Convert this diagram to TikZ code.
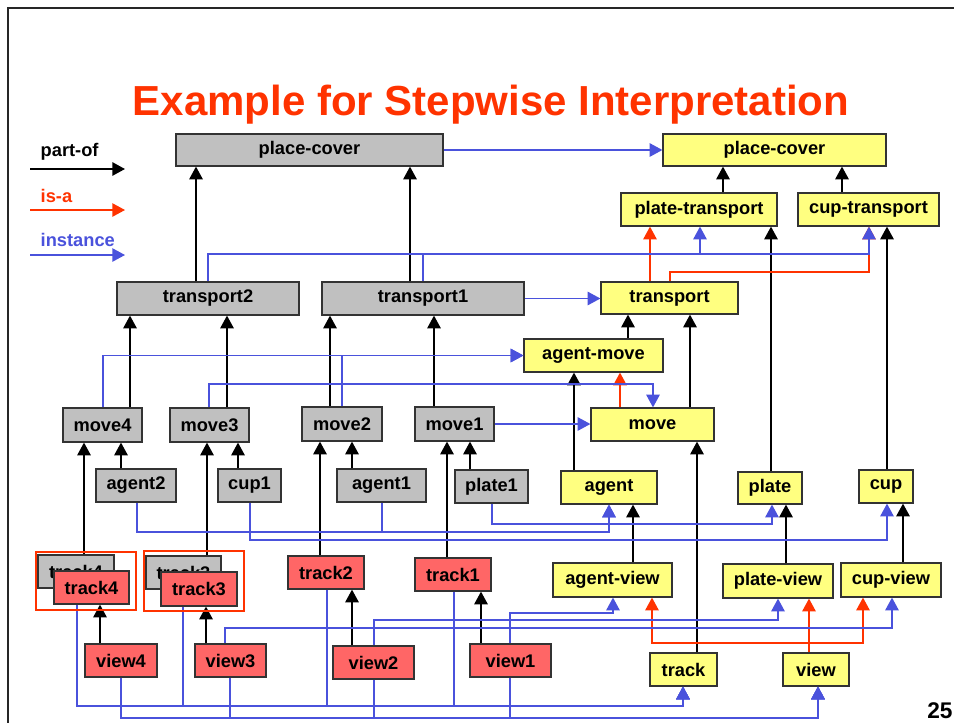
\documentclass[tikz,border=0pt]{standalone}
\usepackage{fontspec}
\setmainfont{Liberation Sans}
\usetikzlibrary{arrows.meta}
\definecolor{gfill}{HTML}{C0C0C0}
\definecolor{yfill}{HTML}{FFFF80}
\definecolor{rfill}{HTML}{FF6666}
\definecolor{iblue}{HTML}{4A52DC}
\definecolor{ired}{HTML}{FF3300}
\newcommand\bx[7]{\node[#6, minimum width={(#4-#2)*0.75pt}, minimum height={(#5-#3)*0.75pt}] (#1) at ({(#2+#4)/2},{(#3+#5)/2}) {#7};}
\begin{document}
\begin{tikzpicture}[x=0.75pt,y=-0.75pt,
  box/.style={draw=black!80,line width=0.9pt,inner sep=0pt,font=\fontsize{13.7}{15}\selectfont\bfseries},
  gbox/.style={box,fill=gfill},
  ybox/.style={box,fill=yfill},
  rbox/.style={box,fill=rfill},
  tip/.style={-{Triangle[length=9.5pt,width=10pt]}},
  po/.style={draw=black,line width=1.3pt,tip},
  isa/.style={draw=ired,line width=1.1pt,tip},
  inst/.style={draw=iblue,line width=1.1pt,tip},
  grp/.style={draw=ired,line width=1pt},
  lbl/.style={anchor=west,font=\fontsize{13.7}{15}\selectfont\bfseries}]
\useasboundingbox (0,0) rectangle (954,722);
\fill[white] (0,0) rectangle (954,722);
% frame
\draw[line width=2.2pt,black!85] (8,740) -- (8,8) -- (970,8);
% title
\node[anchor=base,font=\fontsize{31.5}{34}\selectfont\bfseries,text=ired] (title) at (491,115) {Example for Stepwise Interpretation};
% legend
\node[lbl,text=black] (lpo) at (36,152) {part-of};
\node[lbl,text=ired] (lisa) at (36,196) {is-a};
\node[lbl,text=iblue] (linst) at (36,240) {instance};
\coordinate (lpoa) at (30,169); \coordinate (lpob) at (125,169);
\coordinate (lisaa) at (30,210); \coordinate (lisab) at (125,210);
\coordinate (linsta) at (30,255); \coordinate (linstb) at (125,255);
\draw[po] (lpoa) -- (lpob);
\draw[isa] (lisaa) -- (lisab);
\draw[inst] (linsta) -- (linstb);
% nodes
\bx{gpc}{176}{134}{443}{166}{gbox}{place-cover}
\bx{ypc}{663}{134}{886}{166}{ybox}{place-cover}
\bx{ptr}{621}{193}{777}{226}{ybox}{plate-transport}
\bx{ctr}{798}{193}{939}{226}{ybox}{cup-transport}
\bx{tr2}{117}{282}{299}{315}{gbox}{transport2}
\bx{tr1}{322}{282}{524}{315}{gbox}{transport1}
\bx{ytr}{601}{282}{738}{314}{ybox}{transport}
\bx{am}{524}{339}{663}{372}{ybox}{agent-move}
\bx{m4}{63}{408}{142}{442}{gbox}{move4}
\bx{m3}{170}{408}{249}{442}{gbox}{move3}
\bx{m2}{302}{407}{382}{441}{gbox}{move2}
\bx{m1}{415}{407}{494}{441}{gbox}{move1}
\bx{ymv}{591}{408}{714}{441}{ybox}{move}
\bx{ag2}{96}{469}{176}{502}{gbox}{agent2}
\bx{cup1}{218}{469}{281}{502}{gbox}{cup1}
\bx{ag1}{337}{469}{426}{502}{gbox}{agent1}
\bx{pl1}{455}{470}{528}{503}{gbox}{plate1}
\bx{yag}{561}{471}{657}{504}{ybox}{agent}
\bx{ypl}{738}{472}{802}{504}{ybox}{plate}
\bx{ycup}{859}{470}{913}{503}{ybox}{cup}
\bx{gt4}{38}{555}{114}{588}{gbox}{track4}
\bx{rt4}{54}{571}{129}{604}{rbox}{track4}
\bx{gt3}{146}{556}{221}{589}{gbox}{track3}
\bx{rt3}{161}{572}{237}{606}{rbox}{track3}
\bx{t2}{288}{556}{364}{589}{rbox}{track2}
\bx{t1}{415}{558}{491}{591}{rbox}{track1}
\bx{yav}{553}{563}{672}{597}{ybox}{agent-view}
\bx{ypv}{723}{564}{833}{598}{ybox}{plate-view}
\bx{ycv}{841}{563}{941}{597}{ybox}{cup-view}
\bx{v4}{85}{644}{157}{677}{rbox}{view4}
\bx{v3}{195}{644}{266}{677}{rbox}{view3}
\bx{v2}{333}{646}{414}{679}{rbox}{view2}
\bx{v1}{470}{644}{551}{677}{rbox}{view1}
\bx{ytk}{650}{653}{717}{686}{ybox}{track}
\bx{yv}{783}{653}{849}{686}{ybox}{view}
% part-of
\draw[po] (723,0 |- ptr.north) -- (723,0 |- ypc.south);
\draw[po] (842,0 |- ctr.north) -- (842,0 |- ypc.south);
\draw[po] (196,0 |- tr2.north) -- (196,0 |- gpc.south);
\draw[po] (410,0 |- tr1.north) -- (410,0 |- gpc.south);
\draw[po] (130,0 |- m4.north) -- (130,0 |- tr2.south);
\draw[po] (227,0 |- m3.north) -- (227,0 |- tr2.south);
\draw[po] (330,0 |- m2.north) -- (330,0 |- tr1.south);
\draw[po] (434,0 |- m1.north) -- (434,0 |- tr1.south);
\draw[po] (628,0 |- am.north) -- (628,0 |- ytr.south);
\draw[po] (690,0 |- ymv.north) -- (690,0 |- ytr.south);
\draw[po] (574,0 |- yag.north) -- (574,0 |- am.south);
\draw[po] (771,0 |- ypl.north) -- (771,0 |- ptr.south);
\draw[po] (887,0 |- ycup.north) -- (887,0 |- ctr.south);
\draw[po] (697,0 |- ytk.north) -- (697,0 |- ymv.south);
\draw[po] (633,0 |- yav.north) -- (633,0 |- yag.south);
\draw[po] (786,0 |- ypv.north) -- (786,0 |- ypl.south);
\draw[po] (903,0 |- ycv.north) -- (903,0 |- ycup.south);
\draw[po] (84,0 |- gt4.north) -- (84,0 |- m4.south);
\draw[po] (207,0 |- gt3.north) -- (207,0 |- m3.south);
\draw[po] (320,0 |- t2.north) -- (320,0 |- m2.south);
\draw[po] (447,0 |- t1.north) -- (447,0 |- m1.south);
\draw[po] (121,0 |- ag2.north) -- (121,0 |- m4.south);
\draw[po] (238,0 |- cup1.north) -- (238,0 |- m3.south);
\draw[po] (352,0 |- ag1.north) -- (352,0 |- m2.south);
\draw[po] (470,0 |- pl1.north) -- (470,0 |- m1.south);
\draw[po] (100,0 |- v4.north) -- (100,0 |- rt4.south);
\draw[po] (206,0 |- v3.north) -- (206,0 |- rt3.south);
\draw[po] (352,0 |- v2.north) -- (352,0 |- t2.south);
\draw[po] (481,0 |- v1.north) -- (481,0 |- t1.south);
% is-a
\draw[isa] (650,0 |- ytr.north) -- (650,0 |- ptr.south);
\draw[isa] (670,0 |- ytr.north) |- (869,272) -- (869,0 |- ctr.south);
\draw[isa] (620,0 |- ymv.north) -- (620,0 |- am.south);
\draw[isa] (809,0 |- yv.north) -- (809,0 |- ypv.south);
\draw[isa] (809,643) -| (652,0 |- yav.south);
\draw[isa] (809,643) -| (863,0 |- ycv.south);
% instance
\draw[inst] (gpc.east) -- (gpc.east -| ypc.west);
\draw[inst] (208,0 |- tr2.north) |- (869,254) -- (869,0 |- ctr.south);
\draw[inst] (423,0 |- tr1.north) |- (700,254) -- (700,0 |- ptr.south);
\draw[inst] (tr1.east) -- (tr1.east -| ytr.west);
\draw[inst] (103,0 |- m4.north) |- (am.west);
\draw[inst] (342,0 |- m2.north) |- (am.west);
\draw[inst] (209,0 |- m3.north) |- (653,384) -- (653,0 |- ymv.north);
\draw[inst] (m1.east) -- (m1.east -| ymv.west);
\draw[inst] (137,0 |- ag2.south) |- (609,532) -- (609,0 |- yag.south);
\draw[inst] (382,0 |- ag1.south) |- (609,532) -- (609,0 |- yag.south);
\draw[inst] (492,0 |- pl1.south) |- (772,524) -- (772,0 |- ypl.south);
\draw[inst] (250,0 |- cup1.south) |- (887,540) -- (887,0 |- ycup.south);
\draw[inst] (510,0 |- v1.north) |- (613,613) -- (613,0 |- yav.south);
\draw[inst] (374,0 |- v2.north) |- (778,620) -- (778,0 |- ypv.south);
\draw[inst] (225,0 |- v3.north) |- (892,628) -- (892,0 |- ycv.south);
\draw[inst] (77,0 |- rt4.south) |- (683,706) -- (683,0 |- ytk.south);
\draw[inst] (183,0 |- rt3.south) |- (683,706) -- (683,0 |- ytk.south);
\draw[inst] (327,0 |- t2.south) |- (683,706) -- (683,0 |- ytk.south);
\draw[inst] (454,0 |- t1.south) |- (683,706) -- (683,0 |- ytk.south);
\draw[inst] (121,0 |- v4.south) |- (818,718) -- (818,0 |- yv.south);
\draw[inst] (230,0 |- v3.south) |- (818,718) -- (818,0 |- yv.south);
\draw[inst] (374,0 |- v2.south) |- (818,718) -- (818,0 |- yv.south);
\draw[inst] (510,0 |- v1.south) |- (818,718) -- (818,0 |- yv.south);
% group frames
\draw[grp] (36,552) rectangle (136,610);
\draw[grp] (144,551) rectangle (244,611);
% page number
\node[anchor=base west,inner sep=0pt,font=\fontsize{17}{17}\selectfont\bfseries] (pg) at (927,718) {25};
\end{tikzpicture}
\end{document}
